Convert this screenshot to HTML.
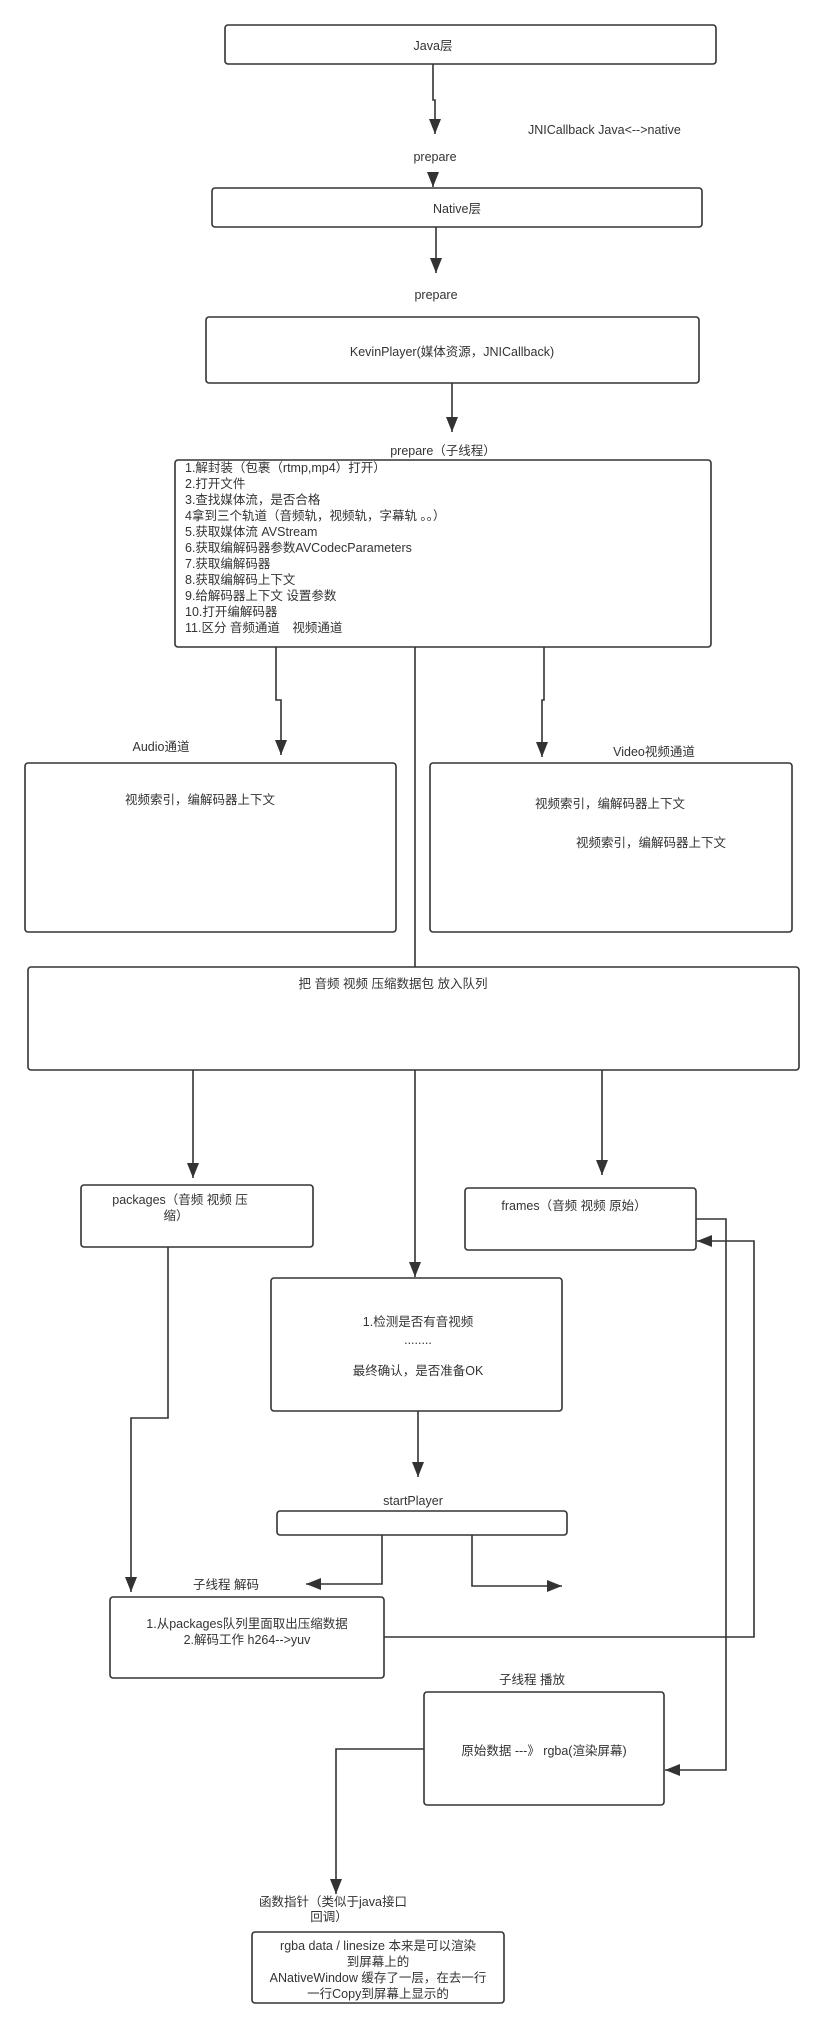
<!DOCTYPE html>
<html><head><meta charset="utf-8"><style>
html,body{margin:0;padding:0;background:#fff;}
svg{display:block;}
text{font-family:"Liberation Sans","Noto Sans CJK SC",sans-serif;font-size:12.5px;fill:#333;}
</style></head><body>
<svg width="819" height="2028" viewBox="0 0 819 2028" xmlns="http://www.w3.org/2000/svg">
<defs>
<marker id="a" markerWidth="16" markerHeight="12" refX="15" refY="6" orient="auto" markerUnits="userSpaceOnUse">
<path d="M0,0 L15,6 L0,12 Z" fill="#333"/></marker>
</defs>
<g fill="none" stroke="#333" stroke-width="1.6">
<!-- boxes -->
<rect x="225" y="25" width="491" height="39" rx="3"/>
<rect x="212" y="188" width="490" height="39" rx="3"/>
<rect x="206" y="317" width="493" height="66" rx="3"/>
<rect x="175" y="460" width="536" height="187" rx="3"/>
<rect x="25" y="763" width="371" height="169" rx="3"/>
<rect x="430" y="763" width="362" height="169" rx="3"/>
<rect x="28" y="967" width="771" height="103" rx="3"/>
<rect x="81" y="1185" width="232" height="62" rx="3"/>
<rect x="465" y="1188" width="231" height="62" rx="3"/>
<rect x="271" y="1278" width="291" height="133" rx="3"/>
<rect x="277" y="1511" width="290" height="24" rx="3"/>
<rect x="110" y="1597" width="274" height="81" rx="3"/>
<rect x="424" y="1692" width="240" height="113" rx="3"/>
<rect x="252" y="1932" width="252" height="71" rx="3"/>
<!-- connectors -->
<path d="M433,64 V100 H435 V134" marker-end="url(#a)"/>
<path d="M433,172 V187" marker-end="url(#a)"/>
<path d="M436,227 V273" marker-end="url(#a)"/>
<path d="M452,383 V432" marker-end="url(#a)"/>
<path d="M276,647 V700 H281 V755" marker-end="url(#a)"/>
<path d="M544,647 V700 H542 V757" marker-end="url(#a)"/>
<path d="M415,647 V967"/>
<path d="M193,1070 V1178" marker-end="url(#a)"/>
<path d="M415,1070 V1277" marker-end="url(#a)"/>
<path d="M602,1070 V1175" marker-end="url(#a)"/>
<path d="M168,1247 V1418 H131 V1592" marker-end="url(#a)"/>
<path d="M418,1411 V1477" marker-end="url(#a)"/>
<path d="M382,1535 V1584 H306" marker-end="url(#a)"/>
<path d="M472,1535 V1586 H562" marker-end="url(#a)"/>
<path d="M384,1637 H754 V1241 H697" marker-end="url(#a)"/>
<path d="M696,1219 H726 V1770 H665" marker-end="url(#a)"/>
<path d="M424,1749 H336 V1894" marker-end="url(#a)"/>
</g>
<g text-anchor="middle">
<text x="433" y="50">Java层</text>
<text x="435" y="161">prepare</text>
<text x="457" y="213">Native层</text>
<text x="436" y="299">prepare</text>
<text x="452" y="356">KevinPlayer(媒体资源，JNICallback)</text>
<text x="443" y="455">prepare（子线程）</text>
<text x="161" y="751">Audio通道</text>
<text x="654" y="756">Video视频通道</text>
<text x="200" y="804">视频索引，编解码器上下文</text>
<text x="610" y="808">视频索引，编解码器上下文</text>
<text x="651" y="847">视频索引，编解码器上下文</text>
<text x="393" y="988">把 音频 视频 压缩数据包 放入队列</text>
<text x="180" y="1204">packages（音频 视频 压</text>
<text x="176" y="1220">缩）</text>
<text x="574" y="1210">frames（音频 视频 原始）</text>
<text x="418" y="1326">1.检测是否有音视频</text>
<text x="418" y="1344">........</text>
<text x="418" y="1375">最终确认，是否准备OK</text>
<text x="413" y="1505">startPlayer</text>
<text x="226" y="1589">子线程 解码</text>
<text x="247" y="1628">1.从packages队列里面取出压缩数据</text>
<text x="247" y="1644">2.解码工作 h264-->yuv</text>
<text x="532" y="1684">子线程 播放</text>
<text x="544" y="1755">原始数据 ---》 rgba(渲染屏幕)</text>
<text x="333" y="1906">函数指针（类似于java接口</text>
<text x="329" y="1921">回调）</text>
<text x="378" y="1950">rgba  data / linesize  本来是可以渲染</text>
<text x="378" y="1966">到屏幕上的</text>
<text x="378" y="1982">ANativeWindow 缓存了一层，在去一行</text>
<text x="378" y="1998">一行Copy到屏幕上显示的</text>
</g>
<text x="528" y="134">JNICallback Java&lt;-->native</text>
<g>
<text x="185" y="472">1.解封装（包裹（rtmp,mp4）打开）</text>
<text x="185" y="488">2.打开文件</text>
<text x="185" y="504">3.查找媒体流，是否合格</text>
<text x="185" y="520">4拿到三个轨道（音频轨，视频轨，字幕轨 。。）</text>
<text x="185" y="536">5.获取媒体流 AVStream</text>
<text x="185" y="552">6.获取编解码器参数AVCodecParameters</text>
<text x="185" y="568">7.获取编解码器</text>
<text x="185" y="584">8.获取编解码上下文</text>
<text x="185" y="600">9.给解码器上下文 设置参数</text>
<text x="185" y="616">10.打开编解码器</text>
<text x="185" y="632">11.区分 音频通道　视频通道</text>
</g>
</svg>
</body></html>
